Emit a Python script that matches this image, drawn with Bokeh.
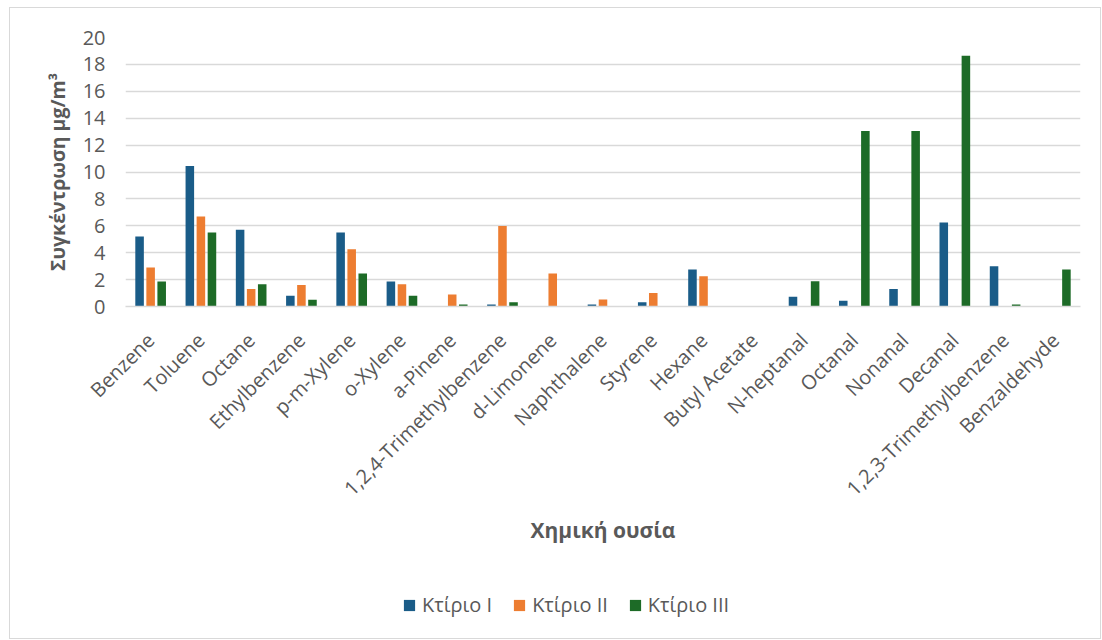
import math
from bokeh.plotting import figure
from bokeh.layouts import column
from bokeh.models import (ColumnDataSource, FactorRange, Range1d, Legend, LegendItem, FixedTicker)
from bokeh.transform import dodge
from bokeh.embed import file_html
from bokeh.resources import INLINE

categories = ["Benzene", "Toluene", "Octane", "Ethylbenzene", "p-m-Xylene", "o-Xylene",
              "a-Pinene", "1,2,4-Trimethylbenzene", "d-Limonene", "Naphthalene", "Styrene",
              "Hexane", "Butyl Acetate", "N-heptanal", "Octanal", "Nonanal", "Decanal",
              "1,2,3-Trimethylbenzene", "Benzaldehyde"]
ktirio_1 = [5.2, 10.45, 5.7, 0.8, 5.5, 1.85, 0.0, 0.15, 0.0, 0.15, 0.32,
            2.75, 0.0, 0.72, 0.42, 1.3, 6.25, 3.0, 0.0]
ktirio_2 = [2.9, 6.7, 1.3, 1.6, 4.25, 1.65, 0.9, 5.98, 2.45, 0.52, 1.0,
            2.25, 0.0, 0.0, 0.0, 0.0, 0.0, 0.0, 0.0]
ktirio_3 = [1.85, 5.5, 1.65, 0.5, 2.45, 0.8, 0.15, 0.32, 0.0, 0.0, 0.0,
            0.0, 0.0, 1.87, 13.05, 13.05, 18.65, 0.15, 2.75]
series_names = ["Κτίριο I", "Κτίριο II", "Κτίριο III"]
y_ticks = [0, 2, 4, 6, 8, 10, 12, 14, 16, 18, 20]

colors = ["#1a5c88", "#ed7d31", "#1d6b27"]
font = "Open Sans"
gray = "#595959"

src = ColumnDataSource(dict(cat=categories, s1=ktirio_1, s2=ktirio_2, s3=ktirio_3))
cols = ["s1", "s2", "s3"]
offsets = [-0.22, 0.0, 0.22]

p = figure(width=1090, height=570, x_range=FactorRange(*categories), y_range=Range1d(0, 20),
           output_backend="svg", toolbar_location=None,
           min_border_left=115, min_border_right=20, min_border_top=29, min_border_bottom=272)

for col, off, c in zip(cols, offsets, colors):
    p.vbar(x=dodge("cat", off, range=p.x_range), top=col, width=0.17, source=src,
           fill_color=c, line_color=None)

p.outline_line_color = None
p.xgrid.grid_line_color = None
p.ygrid.grid_line_color = "#d9d9d9"
p.ygrid.grid_line_width = 1.5

p.yaxis.ticker = FixedTicker(ticks=y_ticks)
p.yaxis.axis_line_color = None
p.yaxis.major_tick_line_color = None
p.yaxis.major_tick_out = 0
p.yaxis.minor_tick_line_color = None
p.yaxis.major_label_text_font = font
p.yaxis.major_label_text_font_size = "20px"
p.yaxis.major_label_text_color = gray
p.yaxis.major_label_standoff = 20
p.yaxis.axis_label = "Συγκέντρωση μg/m³"
p.yaxis.axis_label_text_font = font
p.yaxis.axis_label_text_font_size = "19.5px"
p.yaxis.axis_label_text_font_style = "bold"
p.yaxis.axis_label_text_color = gray
p.yaxis.axis_label_standoff = 9

p.xaxis.axis_line_color = "#d9d9d9"
p.xaxis.axis_line_width = 1.5
p.xaxis.major_tick_line_color = None
p.xaxis.major_tick_out = 0
p.xaxis.minor_tick_line_color = None
p.xaxis.major_label_orientation = math.pi / 4
p.xaxis.major_label_text_font = font
p.xaxis.major_label_text_font_size = "20px"
p.xaxis.major_label_text_color = gray
p.xaxis.major_label_standoff = 30
p.xaxis.axis_label = "Χημική ουσία"
p.xaxis.axis_label_text_font = font
p.xaxis.axis_label_text_font_size = "21px"
p.xaxis.axis_label_text_font_style = "bold"
p.xaxis.axis_label_text_color = gray
p.xaxis.axis_label_standoff = 2

# legend strip below the chart (its bars sit below the visible y-range)
lg = figure(width=1090, height=60, x_range=FactorRange(*categories), y_range=Range1d(100, 101),
            output_backend="svg", toolbar_location=None, min_border=0,
            x_axis_type=None, y_axis_type=None)
lg.outline_line_color = None
lg.grid.visible = False
leg_renderers = [lg.vbar(x=dodge("cat", off, range=lg.x_range), top=col, width=0.17, source=src,
                         fill_color=c, line_color=None)
                 for col, off, c in zip(cols, offsets, colors)]
legend = Legend(items=[LegendItem(label=n, renderers=[r]) for n, r in zip(series_names, leg_renderers)],
                orientation="horizontal", location=(277, 20),
                label_text_font=font, label_text_font_size="20px", label_text_color=gray,
                glyph_width=14, glyph_height=14, spacing=20, label_standoff=6,
                padding=0, margin=0,
                border_line_color=None, background_fill_alpha=0)
lg.add_layout(legend, "center")

layout = column(p, lg, spacing=0, margin=(7, 0, 0, 9),
                styles={"border": "1px solid #d9d9d9"})

open("out.html", "w").write(file_html(layout, INLINE))
